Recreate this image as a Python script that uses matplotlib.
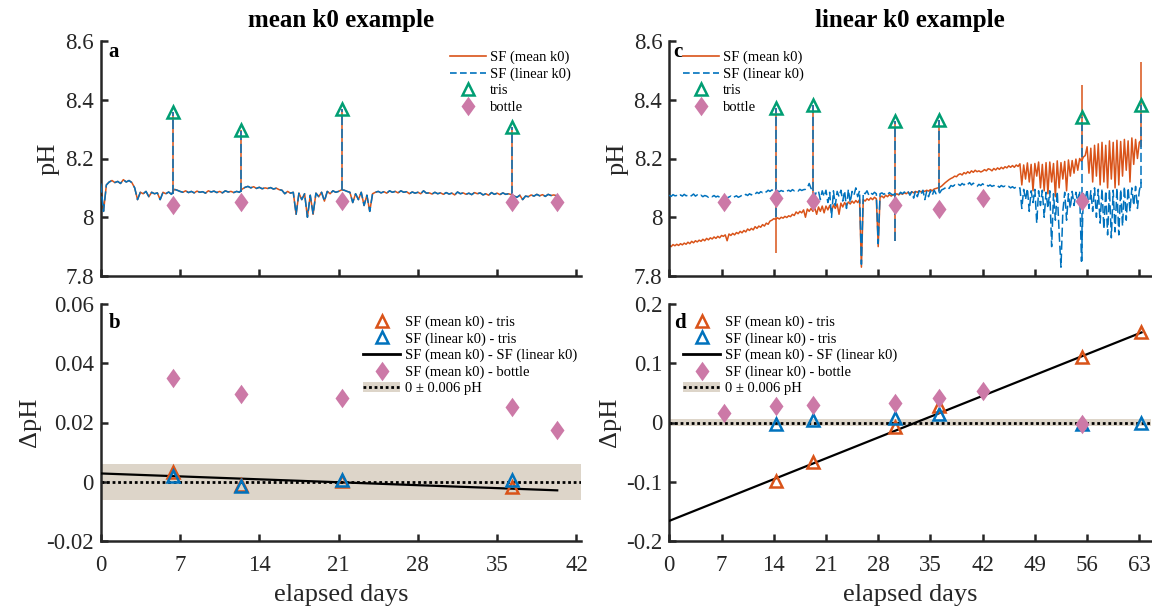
import numpy as np
import matplotlib
matplotlib.use("Agg")
import matplotlib.pyplot as plt
from matplotlib.lines import Line2D
from matplotlib.patches import Patch
from matplotlib.path import Path

# ------------------------------------------------------------------ data
STEP_DAYS = 0.25  # sampling interval of the SeaFET series (days)

# panel a: SF pH, mean k0 calibration (values read every 0.25 d)
ph_mean_a = [
    8.115, 8.020, 8.110, 8.120,
    8.125, 8.118, 8.122, 8.115,
    8.128, 8.120, 8.125, 8.118,
    8.100, 8.060, 8.085, 8.080,
    8.088, 8.070, 8.085, 8.080,
    8.083, 8.060, 8.085, 8.080,
    8.086, 8.078, 8.095, 8.092,
    8.088, 8.085, 8.090, 8.084,
    8.088, 8.083, 8.089, 8.085,
    8.087, 8.082, 8.090, 8.086,
    8.089, 8.084, 8.088, 8.083,
    8.090, 8.086, 8.088, 8.084,
    8.088, 8.085, 8.096, 8.102,
    8.105, 8.100, 8.104, 8.098,
    8.102, 8.097, 8.100, 8.098,
    8.101, 8.096, 8.099, 8.094,
    8.092, 8.080, 8.088, 8.082,
    8.085, 8.010, 8.082, 8.060,
    8.080, 8.000, 8.075, 8.010,
    8.082, 8.070, 8.085, 8.055,
    8.088, 8.080, 8.090, 8.085,
    8.088, 8.093, 8.092, 8.088,
    8.085, 8.050, 8.080, 8.060,
    8.085, 8.040, 8.075, 8.020,
    8.080, 8.085, 8.088, 8.083,
    8.087, 8.082, 8.090, 8.085,
    8.088, 8.083, 8.090, 8.085,
    8.087, 8.080, 8.086, 8.082,
    8.085, 8.080, 8.090, 8.082,
    8.083, 8.079, 8.085, 8.080,
    8.083, 8.078, 8.084, 8.079,
    8.082, 8.076, 8.086, 8.080,
    8.083, 8.078, 8.082, 8.077,
    8.084, 8.080, 8.083, 8.076,
    8.080, 8.075, 8.084, 8.078,
    8.082, 8.077, 8.083, 8.078,
    8.080, 8.077, 8.072, 8.068,
    8.075, 8.060, 8.072, 8.070,
    8.076, 8.072, 8.078, 8.073,
    8.077, 8.071, 8.078, 8.074,
    8.076, 8.073,
]
# linear k0 series is indistinguishable from the mean k0 series in panel a
ph_lin_a = list(ph_mean_a)

tris_days_a = [6.4, 12.4, 21.3, 36.3]
tris_ph_a = [8.358, 8.298, 8.369, 8.307]
spike_lo_a = [8.078, 8.085, 8.092, 8.077]
bottle_days_a = [6.4, 12.4, 21.3, 36.3, 40.3]
bottle_ph_a = [8.043, 8.051, 8.054, 8.051, 8.051]

# panel b: differences
dmean_tris_a = [0.0034, -0.0011, 0.0001, -0.0019]
dlin_tris_a = [0.0018, -0.0014, 0.0007, 0.0007]
dmean_bottle_a = [0.0351, 0.0297, 0.0284, 0.0252, 0.0173]
dline_days_a = [0.0, 40.3]
dline_a = [0.0028, -0.0029]

# panel c: SF pH (values read every 0.25 d)
ph_mean_c = [
    7.905, 7.900, 7.907, 7.903,
    7.908, 7.904, 7.910, 7.906,
    7.912, 7.908, 7.915, 7.910,
    7.918, 7.913, 7.920, 7.916,
    7.922, 7.918, 7.925, 7.920,
    7.928, 7.923, 7.930, 7.926,
    7.933, 7.928, 7.935, 7.930,
    7.938, 7.935, 7.940, 7.920,
    7.943, 7.938, 7.945, 7.940,
    7.948, 7.944, 7.952, 7.947,
    7.955, 7.950, 7.960, 7.955,
    7.962, 7.957, 7.968, 7.962,
    7.970, 7.966, 7.975, 7.970,
    7.980, 7.976, 7.987, 7.990,
    7.995, 7.993, 7.998, 7.994,
    8.000, 7.997, 8.003, 7.999,
    8.005, 8.002, 8.010, 8.006,
    8.018, 8.012, 8.020, 8.015,
    8.025, 8.000, 8.028, 8.020,
    8.030, 8.020, 8.032, 8.010,
    8.035, 8.020, 8.038, 8.015,
    8.038, 8.025, 8.040, 8.020,
    8.042, 8.030, 8.045, 8.010,
    8.048, 8.035, 8.050, 8.040,
    8.052, 8.045, 8.055, 8.048,
    8.057, 8.050, 8.060, 7.830,
    8.060, 8.055, 8.063, 8.058,
    8.066, 8.060, 8.068, 8.063,
    7.900, 8.068, 8.072, 8.066,
    8.075, 8.070, 8.077, 8.072,
    8.077, 8.075, 8.080, 8.076,
    8.082, 8.078, 8.084, 8.080,
    8.085, 8.080, 8.087, 8.083,
    8.088, 8.085, 8.090, 8.086,
    8.090, 8.088, 8.092, 8.089,
    8.094, 8.090, 8.096, 8.098,
    8.100, 8.102, 8.106, 8.112,
    8.118, 8.123, 8.128, 8.132,
    8.135, 8.140, 8.138, 8.145,
    8.148, 8.144, 8.152, 8.148,
    8.155, 8.150, 8.158, 8.153,
    8.160, 8.155, 8.158, 8.154,
    8.157, 8.162, 8.158, 8.165,
    8.163, 8.158, 8.166, 8.161,
    8.168, 8.163, 8.170, 8.165,
    8.172, 8.168, 8.175, 8.170,
    8.176, 8.170, 8.178, 8.173,
    8.182, 8.110, 8.178, 8.130,
    8.185, 8.120, 8.180, 8.090,
    8.183, 8.140, 8.188, 8.100,
    8.180, 8.090, 8.186, 8.080,
    8.188, 8.120, 8.183, 8.070,
    8.192, 8.100, 8.186, 8.130,
    8.190, 8.090, 8.195, 8.140,
    8.193, 8.150, 8.198, 8.160,
    8.200, 8.190, 8.205, 8.210,
    8.240, 8.150, 8.235, 8.120,
    8.245, 8.140, 8.250, 8.110,
    8.255, 8.120, 8.245, 8.100,
    8.260, 8.130, 8.255, 8.100,
    8.262, 8.110, 8.258, 8.140,
    8.265, 8.160, 8.260, 8.120,
    8.270, 8.180, 8.265, 8.200,
    8.255, 8.262,
]
ph_lin_c = [
    8.075, 8.071, 8.077, 8.073,
    8.074, 8.070, 8.076, 8.072,
    8.078, 8.073, 8.075, 8.070,
    8.074, 8.079, 8.072, 8.076,
    8.071, 8.075, 8.070, 8.074,
    8.072, 8.068, 8.073, 8.070,
    8.074, 8.069, 8.072, 8.068,
    8.071, 8.067, 8.070, 8.066,
    8.069, 8.072, 8.066, 8.070,
    8.073, 8.068, 8.071, 8.075,
    8.072, 8.078, 8.074, 8.080,
    8.076, 8.082, 8.079, 8.085,
    8.081, 8.087, 8.084, 8.090,
    8.086, 8.092, 8.088, 8.093,
    8.089, 8.094, 8.090, 8.087,
    8.091, 8.088, 8.093, 8.089,
    8.092, 8.088, 8.094, 8.090,
    8.093, 8.089, 8.095, 8.091,
    8.094, 8.095, 8.100, 8.115,
    8.098, 8.092, 8.070, 8.090,
    8.088, 8.060, 8.090, 8.070,
    8.092, 8.050, 8.085, 8.000,
    8.090, 8.040, 8.088, 8.070,
    8.092, 8.055, 8.090, 8.030,
    8.095, 8.050, 8.088, 8.075,
    8.100, 8.070, 8.090, 7.840,
    8.085, 8.080, 8.090, 8.075,
    8.083, 8.078, 8.085, 8.080,
    7.910, 8.080, 8.083, 8.078,
    8.082, 8.077, 8.084, 8.079,
    8.076, 8.080, 8.082, 8.077,
    8.085, 8.080, 8.086, 8.081,
    8.088, 8.075, 8.087, 8.065,
    8.089, 8.070, 8.090, 8.078,
    8.092, 8.060, 8.088, 8.070,
    8.090, 8.075, 8.092, 8.080,
    8.088, 8.083, 8.093, 8.096,
    8.100, 8.104, 8.098, 8.108,
    8.105, 8.110, 8.106, 8.112,
    8.108, 8.115, 8.110, 8.117,
    8.112, 8.118, 8.110, 8.116,
    8.110, 8.105, 8.112, 8.108,
    8.114, 8.108, 8.111, 8.106,
    8.110, 8.105, 8.108, 8.103,
    8.107, 8.102, 8.108, 8.104,
    8.106, 8.101, 8.105, 8.100,
    8.104, 8.099, 8.103, 8.098,
    8.100, 8.030, 8.095, 8.060,
    8.098, 8.020, 8.090, 8.050,
    8.095, 7.980, 8.090, 8.040,
    8.092, 8.000, 8.085, 8.030,
    8.090, 7.900, 8.080, 7.990,
    8.088, 7.950, 7.830, 8.020,
    8.085, 7.990, 8.080, 8.030,
    8.088, 8.040, 8.085, 8.050,
    8.090, 7.850, 8.080, 8.060,
    8.095, 8.030, 8.090, 8.020,
    8.100, 8.000, 8.095, 7.980,
    8.098, 7.960, 8.090, 7.940,
    8.095, 7.930, 8.092, 7.950,
    8.100, 7.940, 8.095, 7.970,
    8.105, 7.990, 8.100, 8.020,
    8.100, 8.040, 8.105, 8.030,
    8.090, 8.120,
]

tris_days_c = [14.3, 19.2, 30.2, 36.2, 55.3, 63.2]
tris_ph_c = [8.372, 8.383, 8.327, 8.330, 8.341, 8.383]
spike_lo_mean_c = [7.880, 8.030, 7.920, 8.090, 8.190, 8.240]
spike_hi_mean_c = [8.372, 8.383, 8.327, 8.330, 8.450, 8.530]
spike_lo_lin_c = [8.000, 8.090, 7.920, 8.085, 7.850, 8.100]
spike_hi_lin_c = [8.372, 8.383, 8.327, 8.330, 8.341, 8.383]
bottle_days_c = [7.35, 14.3, 19.2, 30.2, 36.1, 42.1, 55.3]
bottle_ph_c = [8.052, 8.065, 8.054, 8.043, 8.029, 8.066, 8.054]

# panel d: differences
dmean_tris_c = [-0.099, -0.067, -0.007, 0.028, 0.111, 0.152]
dlin_tris_c = [-0.002, 0.005, 0.008, 0.015, -0.002, -0.001]
dlin_bottle_c = [0.016, 0.028, 0.030, 0.033, 0.042, 0.053, -0.002]
dline_days_c = [0.0, 63.3]
dline_c = [-0.166, 0.152]

UNCERT = 0.006

# ------------------------------------------------------------------ style
ORANGE = "#D95319"
BLUE = "#0072BD"
GREEN = "#009E73"
PINK = "#CC79A7"
BAND = "#DDD5C9"
AXC = "#262626"
DASH = (0, (6, 2.5))
DIAMOND = Path([(0, 1), (0.72, 0), (0, -1), (-0.72, 0), (0, 1)],
               [Path.MOVETO, Path.LINETO, Path.LINETO, Path.LINETO,
                Path.CLOSEPOLY])

plt.rcParams["font.family"] = ["Liberation Serif", "DejaVu Serif"]
plt.rcParams["axes.unicode_minus"] = False

fig = plt.figure(figsize=(11.52, 6.11), dpi=100)
W, H = 1152.0, 611.0


def axes_px(x0, x1, ytop, ybot):
    return fig.add_axes([x0 / W, (H - ybot) / H, (x1 - x0) / W, (ybot - ytop) / H])


ax_a = axes_px(100.7, 581.0, 41.0, 276.0)
ax_b = axes_px(100.7, 581.0, 304.0, 541.0)
ax_c = axes_px(669.3, 1150.5, 41.0, 276.0)
ax_d = axes_px(669.3, 1150.5, 304.0, 541.0)


def style(ax):
    for s in ("top", "right"):
        ax.spines[s].set_visible(False)
    for s in ("left", "bottom"):
        ax.spines[s].set_linewidth(1.8)
        ax.spines[s].set_color(AXC)
    ax.tick_params(direction="in", length=5, width=1.8, colors=AXC,
                   labelsize=16.5, pad=5)
    ax.tick_params(axis="x", pad=10)
    ax.set_facecolor("none")


tri_kw = dict(ls="none", marker="^", mfc="none", ms=8, mew=1.8)
dia_kw = dict(ls="none", marker=DIAMOND, color=PINK, ms=14, mew=0)

LEG_KW = dict(loc="upper left", frameon=False, fontsize=10.5,
              handletextpad=0.3, labelspacing=0.22, borderpad=0,
              borderaxespad=0)


def ts_panel(ax, ph_mean, ph_lin, tris_d, tris_v, lo_m, hi_m, lo_l, hi_l,
             bot_d, bot_v, xmax, xticks, label, leg_x, title):
    t_mean = np.arange(len(ph_mean)) * STEP_DAYS
    t_lin = np.arange(len(ph_lin)) * STEP_DAYS
    ax.plot(t_mean, ph_mean, color=ORANGE, lw=1.1, zorder=2)
    ax.plot(t_lin, ph_lin, color=BLUE, lw=1.1, ls=DASH, zorder=3)
    ax.vlines(tris_d, lo_m, hi_m, colors=ORANGE, lw=1.1, zorder=2)
    ax.vlines(tris_d, lo_l, hi_l, colors=BLUE, lw=1.1, linestyles=DASH, zorder=3)
    ax.plot(tris_d, tris_v, mec=GREEN, zorder=5, **tri_kw)
    ax.plot(bot_d, bot_v, zorder=5, **dia_kw)
    ax.set_xlim(0, xmax)
    ax.set_ylim(7.8, 8.6)
    ax.set_xticks(xticks)
    ax.set_yticks([7.8, 8.0, 8.2, 8.4, 8.6])
    ax.set_yticklabels(["7.8", "8", "8.2", "8.4", "8.6"])
    ax.tick_params(labelbottom=False)
    ax.set_ylabel("pH", fontsize=19, color=AXC, labelpad=4)
    ax.set_title(title, fontsize=18, fontweight="bold", pad=10, color="black")
    ax.text(label[1], 0.932, label[0], transform=ax.transAxes, fontsize=15,
            fontweight="bold", va="baseline", ha="left")
    handles = [Line2D([], [], color=ORANGE, lw=1.2),
               Line2D([], [], color=BLUE, lw=1.2, ls=(0, (4, 2))),
               Line2D([], [], mec=GREEN, **tri_kw),
               Line2D([], [], **dia_kw)]
    ax.legend(handles, ["SF (mean k0)", "SF (linear k0)", "tris", "bottle"],
              bbox_to_anchor=(leg_x, 0.958), handlelength=2.45, **LEG_KW)


def diff_panel(ax, tris_d, dm, dl, bot_d, db, bot_label, line_d, line_v,
               xmax, xticks, yticks, yticklabels, ylim, label, leg_x):
    ax.axhspan(-UNCERT, UNCERT, color=BAND, lw=0, zorder=1)
    ax.axhline(0, color="black", lw=2.0, ls=(0, (1, 1)), zorder=2)
    ax.plot(line_d, line_v, color="black", lw=1.6, zorder=3)
    ax.plot(tris_d, dm, mec=ORANGE, zorder=4, **tri_kw)
    ax.plot(tris_d, dl, mec=BLUE, zorder=4, **tri_kw)
    ax.plot(bot_d, db, zorder=4, **dia_kw)
    ax.set_xlim(0, xmax)
    ax.set_ylim(*ylim)
    ax.set_xticks(xticks)
    ax.set_yticks(yticks)
    ax.set_yticklabels(yticklabels)
    ax.set_xlabel("elapsed days", fontsize=19, color=AXC, labelpad=6)
    ax.set_ylabel("ΔpH", fontsize=19, color=AXC, labelpad=4)
    ax.text(label[1], 0.899, label[0], transform=ax.transAxes, fontsize=15,
            fontweight="bold", va="baseline", ha="left")
    handles = [Line2D([], [], mec=ORANGE, **tri_kw),
               Line2D([], [], mec=BLUE, **tri_kw),
               Line2D([], [], color="black", lw=2.0),
               Line2D([], [], **dia_kw),
               (Patch(facecolor=BAND, edgecolor="none"),
                Line2D([], [], color="black", lw=2.0, ls=(0, (1, 1))))]
    labels = ["SF (mean k0) - tris", "SF (linear k0) - tris",
              "SF (mean k0) - SF (linear k0)", bot_label, "0 ± 0.006 pH"]
    ax.legend(handles, labels, bbox_to_anchor=(leg_x, 0.952),
              handlelength=2.55, **LEG_KW)


for ax in (ax_a, ax_b, ax_c, ax_d):
    style(ax)

ts_panel(ax_a, ph_mean_a, ph_lin_a, tris_days_a, tris_ph_a,
         spike_lo_a, tris_ph_a, spike_lo_a, tris_ph_a,
         bottle_days_a, bottle_ph_a, 42.4, np.arange(0, 43, 7),
         ("a", 0.016), 0.727, "mean k0 example")
ts_panel(ax_c, ph_mean_c, ph_lin_c, tris_days_c, tris_ph_c,
         spike_lo_mean_c, spike_hi_mean_c, spike_lo_lin_c, spike_hi_lin_c,
         bottle_days_c, bottle_ph_c, 64.5, np.arange(0, 64, 7),
         ("c", 0.008), 0.0285, "linear k0 example")

diff_panel(ax_b, tris_days_a, dmean_tris_a, dlin_tris_a, bottle_days_a,
           dmean_bottle_a, "SF (mean k0) - bottle", dline_days_a, dline_a,
           42.4, np.arange(0, 43, 7), [-0.02, 0, 0.02, 0.04, 0.06],
           ["-0.02", "0", "0.02", "0.04", "0.06"], (-0.02, 0.06),
           ("b", 0.016), 0.546)
diff_panel(ax_d, tris_days_c, dmean_tris_c, dlin_tris_c, bottle_days_c,
           dlin_bottle_c, "SF (linear k0) - bottle", dline_days_c, dline_c,
           64.5, np.arange(0, 64, 7), [-0.2, -0.1, 0, 0.1, 0.2],
           ["-0.2", "-0.1", "0", "0.1", "0.2"], (-0.2, 0.2),
           ("d", 0.01), 0.0285)

fig.savefig("out.png", dpi=100)
